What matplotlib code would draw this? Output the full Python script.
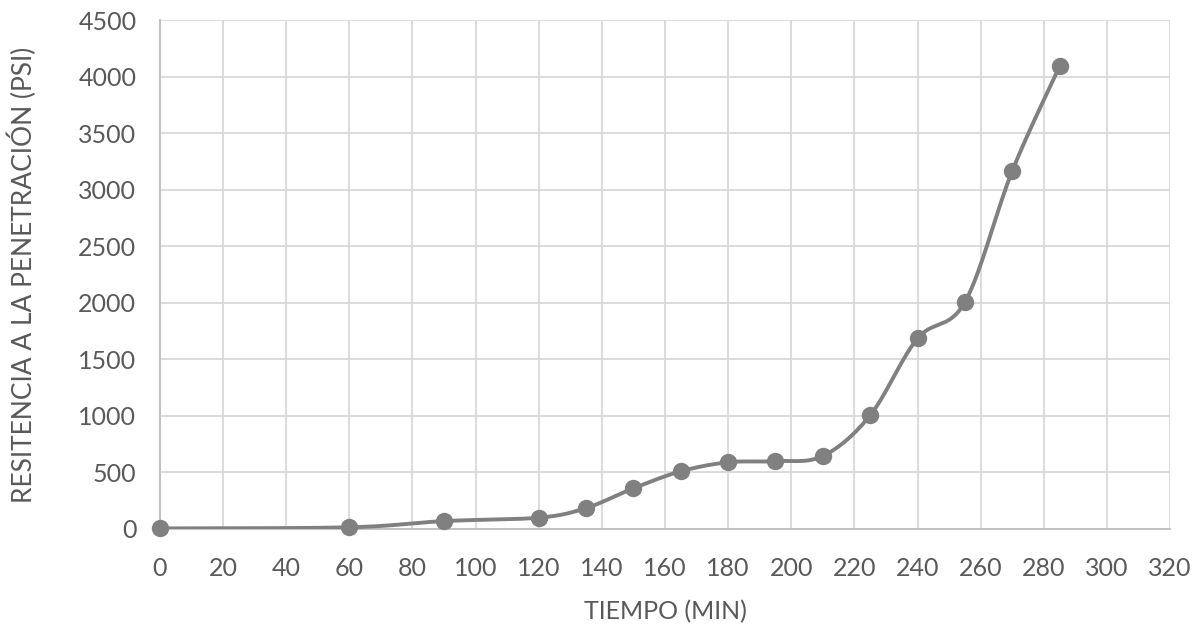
import numpy as np
import matplotlib.pyplot as plt

# penetration resistance readings
tiempo = [0, 60, 90, 120, 135, 150, 165, 180, 195, 210, 225, 240, 255, 270, 285]
resistencia = [5, 15, 70, 100, 185, 360, 510, 590, 600, 645, 1005, 1685, 2005, 3165, 4090]

x_ticks = list(range(0, 321, 20))
y_ticks = list(range(0, 4501, 500))

GRIS = '#808080'
TEXTO = '#595959'


def suavizar(xs, ys, sx, sy, n=40):
    '''smoothed curve through the points (bezier, control offset 1/6 of neighbour span)'''
    p = np.column_stack([np.asarray(xs, float) * sx, np.asarray(ys, float) * sy])
    out = [p[0]]
    for i in range(len(p) - 1):
        p0 = p[i - 1] if i > 0 else p[i]
        p1, p2 = p[i], p[i + 1]
        p3 = p[i + 2] if i + 2 < len(p) else p[i + 1]
        c1 = p1 + (p2 - p0) / 6.0
        c2 = p2 - (p3 - p1) / 6.0
        t = np.linspace(0, 1, n)[1:, None]
        seg = ((1 - t) ** 3) * p1 + 3 * ((1 - t) ** 2) * t * c1 + 3 * (1 - t) * t ** 2 * c2 + t ** 3 * p2
        out.extend(seg)
    out = np.array(out)
    return out[:, 0] / sx, out[:, 1] / sy


plt.rcParams['font.family'] = ['Lato', 'DejaVu Sans']

fig = plt.figure(figsize=(12.01, 6.29), dpi=100)
ax = fig.add_axes([0.1332, 0.159, 0.9742 - 0.1332, 0.968 - 0.159])

# scale to pixel-ish units so the smoothing behaves like on screen
sx = 1010.0 / 320
sy = 509.0 / 4500
cx, cy = suavizar(tiempo, resistencia, sx, sy)
ax.plot(cx, cy, color=GRIS, lw=2.8, solid_capstyle='round', zorder=3)
ax.plot(tiempo, resistencia, 'o', color=GRIS, ms=11.5, zorder=4, clip_on=False)

ax.set_xlim(0, 320)
ax.set_ylim(0, 4500)
ax.set_xticks(x_ticks)
ax.set_yticks(y_ticks)
ax.grid(True, color='#d9d9d9', lw=1.3)
ax.set_axisbelow(True)
for s in ['top', 'right']:
    ax.spines[s].set_visible(False)
for s in ['left', 'bottom']:
    ax.spines[s].set_color('#bfbfbf')
    ax.spines[s].set_linewidth(1.3)
ax.tick_params(length=0, labelsize=18, colors=TEXTO)
ax.tick_params(axis='x', pad=20)
ax.tick_params(axis='y', pad=17)

ax.set_xlabel('TIEMPO (MIN)', fontsize=18, color=TEXTO, va='center')
ax.set_ylabel('RESITENCIA A LA PENETRACIÓN (PSI)', fontsize=19, color=TEXTO, va='center')
ax.xaxis.set_label_coords(0.5, -83 / 509)
ax.yaxis.set_label_coords(-138 / 1010, 0.5)

fig.savefig('out.png', dpi=100)
